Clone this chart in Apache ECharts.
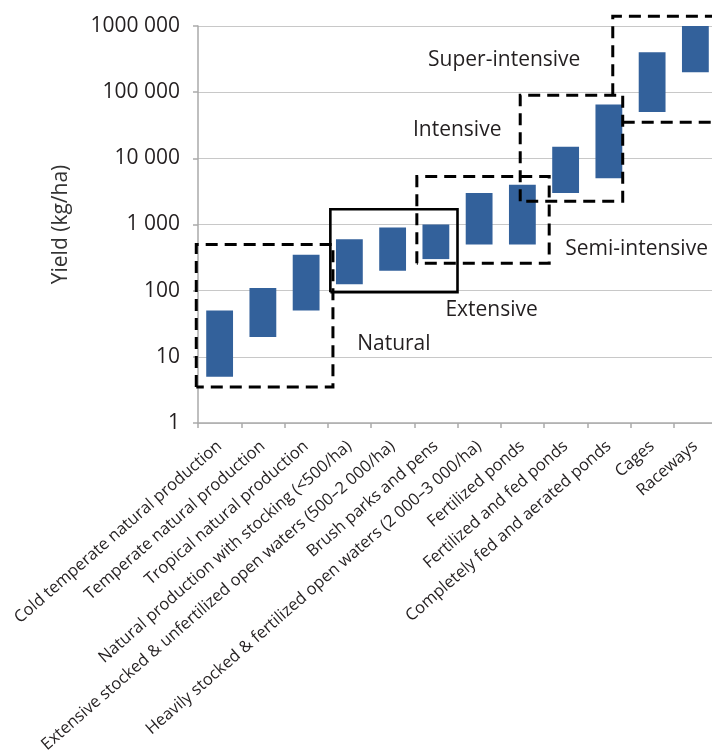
<!DOCTYPE html>
<html>
<head>
<meta charset="utf-8">
<script src="https://cdn.jsdelivr.net/npm/echarts@6/dist/echarts.min.js"></script>
<style>
  html, body { margin: 0; padding: 0; background: #ffffff; }
  #chart { width: 712px; height: 751px; }
</style>
</head>
<body>
<div id="chart"></div>
<script>
// Aquaculture production systems and their yield ranges (kg/ha)
const categories = [
  'Cold temperate natural production',
  'Temperate natural production',
  'Tropical natural production',
  'Natural production with stocking (<500/ha)',
  'Extensive stocked & unfertilized open waters (500–2 000/ha)',
  'Brush parks and pens',
  'Heavily stocked & fertilized open waters (2 000–3 000/ha)',
  'Fertilized ponds',
  'Fertilized and fed ponds',
  'Completely fed and aerated ponds',
  'Cages',
  'Raceways'
];
const yieldLow  = [5, 20, 50, 125, 200, 300, 500, 500, 3000, 5000, 50000, 200000];
const yieldHigh = [50, 110, 350, 600, 900, 1000, 3000, 4000, 15000, 65000, 400000, 1000000];

// Y-axis tick labels keyed by value
const tickValues = [1, 10, 100, 1000, 10000, 100000, 1000000];
const tickLabels = ['1', '10', '100', '1 000', '10 000', '100 000', '1000 000'];

// Intensity groupings. Outline points are [band position, yield], where band
// position 0 is the left edge of the first category and 1 is one category wide.
const groupNames = ['Natural', 'Extensive', 'Semi-intensive', 'Intensive', 'Super-intensive'];
const groupDashed = [true, false, true, true, true];
const groupOutlines = [
  [[[-0.04, 3.5], [-0.04, 500], [3.12, 500], [3.12, 3.5], [-0.04, 3.5]]],
  [[[3.06, 95], [3.06, 1700], [6.0, 1700], [6.0, 95], [3.06, 95]]],
  [[[5.06, 260], [5.06, 5300], [8.12, 5300], [8.12, 260], [5.06, 260]]],
  [[[7.45, 2250], [7.45, 90000], [9.82, 90000], [9.82, 2250], [7.45, 2250]]],
  [[[9.59, 90000], [9.59, 1400000], [12.5, 1400000]], [[9.82, 35000], [12.5, 35000]]]
];
const groupLabelPos = [[3.68, 15.7], [5.72, 51], [8.49, 427], [4.97, 26700], [5.32, 311000]];

const FONT = '"Open Sans", "Noto Sans", sans-serif';
const TEXT = '#231f20';
const BAR = '#33619b';

const chart = echarts.init(document.getElementById('chart'), null, { renderer: 'canvas' });

function bandToPixel(api, pt) {
  const bw = api.size([1, 1], [0, 10])[0];
  const c = api.coord([0, pt[1]]);
  return [c[0] - bw / 2 + pt[0] * bw, c[1]];
}

chart.setOption({
  animation: false,
  backgroundColor: '#ffffff',
  grid: {
    left: 198, right: -5, top: 26, bottom: 328,
    containLabel: false,
    outerBoundsMode: 'none'
  },
  xAxis: {
    type: 'category',
    data: categories,
    axisLine: { lineStyle: { color: '#aaaaaa', width: 1.5 } },
    axisTick: { show: true, length: 5, lineStyle: { color: '#aaaaaa', width: 1.5 } },
    axisLabel: {
      interval: 0,
      rotate: 41,
      margin: 21,
      color: TEXT,
      fontSize: 16.5,
      fontFamily: FONT,
      hideOverlap: false
    },
    splitLine: { show: false }
  },
  yAxis: {
    type: 'log',
    logBase: 10,
    min: 1,
    max: 1000000,
    name: 'Yield (kg/ha)',
    nameLocation: 'middle',
    nameGap: 126,
    nameTextStyle: { color: '#333333', fontSize: 21, fontFamily: FONT },
    axisLine: { show: true, lineStyle: { color: '#aaaaaa', width: 1.5 } },
    axisTick: { show: true, length: 5, lineStyle: { color: '#aaaaaa', width: 1.5 } },
    axisLabel: {
      margin: 18,
      color: TEXT,
      fontSize: 21,
      fontFamily: FONT,
      formatter: function (v) {
        const idx = tickValues.findIndex(t => Math.abs(t - v) / t < 1e-6);
        return idx >= 0 ? tickLabels[idx] : '';
      }
    },
    splitLine: { show: true, lineStyle: { color: '#c8c8c8', width: 1.2 } }
  },
  series: [
    {
      name: 'Yield range',
      type: 'custom',
      coordinateSystem: 'cartesian2d',
      encode: { x: 0, y: [1, 2] },
      data: categories.map((c, i) => [i, yieldLow[i], yieldHigh[i]]),
      renderItem: function (params, api) {
        const i = api.value(0);
        const lo = api.coord([i, api.value(1)]);
        const hi = api.coord([i, api.value(2)]);
        const bw = api.size([1, 1], [i, 10])[0] * 0.62;
        return {
          type: 'rect',
          shape: { x: lo[0] - bw / 2, y: hi[1], width: bw, height: lo[1] - hi[1] },
          style: { fill: BAR }
        };
      },
      z: 2
    },
    {
      name: 'Intensity groups',
      type: 'custom',
      coordinateSystem: 'cartesian2d',
      clip: false,
      data: groupNames.map((n, i) => [0, 10]),
      renderItem: function (params, api) {
        const g = params.dataIndex;
        const children = groupOutlines[g].map(line => ({
          type: 'polyline',
          shape: { points: line.map(p => bandToPixel(api, p)) },
          style: {
            fill: null,
            stroke: '#000000',
            lineWidth: groupDashed[g] ? 3 : 2.6,
            lineDash: groupDashed[g] ? [12, 7] : null
          }
        }));
        const lp = bandToPixel(api, groupLabelPos[g]);
        children.push({
          type: 'text',
          x: lp[0],
          y: lp[1],
          style: {
            text: groupNames[g],
            fill: TEXT,
            fontSize: 21,
            fontFamily: FONT,
            align: 'left',
            verticalAlign: 'middle'
          }
        });
        return { type: 'group', children: children };
      },
      z: 5
    }
  ]
});
</script>
</body>
</html>
